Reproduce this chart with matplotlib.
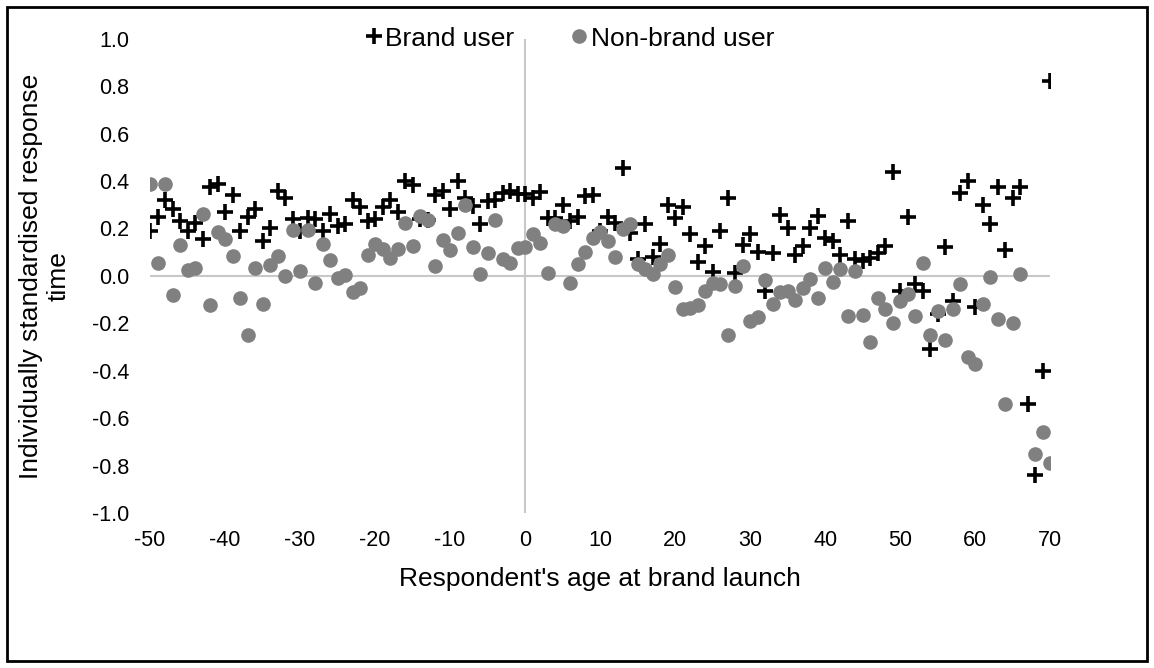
import numpy as np
import matplotlib
matplotlib.use("Agg")
import matplotlib.pyplot as plt
from matplotlib.patches import Rectangle

plt.rcParams['font.family'] = ['Liberation Sans', 'DejaVu Sans']
plt.rcParams['axes.unicode_minus'] = False

# Respondent's age at brand launch
ages = list(range(-50, 71))

# Individually standardised response time, brand users
brand_user = [
    0.19, 0.25, 0.32, 0.28, 0.23, 0.19, 0.225, 0.155, 0.375, 0.387,    # -50..-41
    0.27, 0.34, 0.19, 0.25, 0.28, 0.145, 0.20, 0.36, 0.33, 0.24,       # -40..-31
    0.19, 0.245, 0.24, 0.19, 0.26, 0.21, 0.22, 0.32, 0.29, 0.23,       # -30..-21
    0.24, 0.29, 0.32, 0.27, 0.40, 0.385, 0.24, 0.235, 0.34, 0.36,      # -20..-11
    0.28, 0.40, 0.33, 0.295, 0.22, 0.315, 0.32, 0.35, 0.36, 0.345,     # -10..-1
    0.345, 0.33, 0.355, 0.245, 0.245, 0.30, 0.23, 0.25, 0.335, 0.34,   # 0..9
    0.19, 0.25, 0.225, 0.455, 0.18, 0.07, 0.22, 0.08, 0.135, 0.30,     # 10..19
    0.245, 0.29, 0.175, 0.06, 0.124, 0.016, 0.19, 0.33, 0.014, 0.13,   # 20..29
    0.177, 0.10, -0.063, 0.098, 0.257, 0.204, 0.09, 0.124, 0.204, 0.253,  # 30..39
    0.16, 0.145, 0.09, 0.23, 0.07, 0.063, 0.077, 0.098, 0.125, 0.44,   # 40..49
    -0.063, 0.25, -0.035, -0.063, -0.31, -0.16, 0.12, -0.105, 0.35, 0.40,  # 50..59
    -0.13, 0.30, 0.22, 0.375, 0.11, 0.33, 0.375, -0.54, -0.84, -0.40,  # 60..69
    0.82,                                                              # 70
]

# Individually standardised response time, non-brand users
non_brand_user = [
    0.387, 0.053, 0.387, -0.082, 0.131, 0.025, 0.032, 0.263, -0.122, 0.183,   # -50..-41
    0.155, 0.084, -0.094, -0.249, 0.035, -0.12, 0.046, 0.084, 0.0, 0.194,     # -40..-31
    0.021, 0.194, -0.031, 0.136, 0.066, -0.011, 0.004, -0.07, -0.052, 0.089,  # -30..-21
    0.136, 0.113, 0.075, 0.113, 0.225, 0.124, 0.253, 0.235, 0.042, 0.15,      # -20..-11
    0.11, 0.18, 0.30, 0.12, 0.007, 0.096, 0.235, 0.07, 0.056, 0.117,          # -10..-1
    0.12, 0.176, 0.14, 0.014, 0.22, 0.21, -0.032, 0.05, 0.10, 0.16,           # 0..9
    0.187, 0.148, 0.08, 0.197, 0.22, 0.052, 0.028, 0.01, 0.052, 0.089,        # 10..19
    -0.045, -0.138, -0.134, -0.122, -0.063, -0.03, -0.035, -0.25, -0.042, 0.042,  # 20..29
    -0.19, -0.175, -0.017, -0.12, -0.07, -0.063, -0.10, -0.052, -0.014, -0.094,   # 30..39
    0.035, -0.025, 0.03, -0.169, 0.021, -0.163, -0.278, -0.094, -0.14, -0.197,    # 40..49
    -0.108, -0.077, -0.169, 0.054, -0.25, -0.148, -0.27, -0.14, -0.035, -0.34,    # 50..59
    -0.37, -0.117, -0.004, -0.18, -0.54, -0.20, 0.01, np.nan, -0.75, -0.657,      # 60..69
    -0.79,                                                                        # 70
]

x_ticks = list(range(-50, 71, 10))
y_ticks = [-1.0, -0.8, -0.6, -0.4, -0.2, 0.0, 0.2, 0.4, 0.6, 0.8, 1.0]
y_tick_labels = [f"{v:.1f}" for v in y_ticks]

fig = plt.figure(figsize=(11.54, 6.68), dpi=100)
ax = fig.add_axes([0.130, 0.232, 0.780, 0.710])

ax.axhline(0, color='#c8c8c8', lw=1.5, zorder=1)
ax.axvline(0, color='#c8c8c8', lw=1.5, zorder=1)

ax.plot(ages, brand_user, linestyle='none', marker='+', color='black',
        markersize=12, markeredgewidth=2.6, label='Brand user', zorder=3)
ax.plot(ages, non_brand_user, linestyle='none', marker='o', color='#808080',
        markeredgecolor='#808080', markersize=9.5, label='Non-brand user', zorder=4)

ax.set_xlim(-50, 70)
ax.set_ylim(-1.0, 1.0)
ax.set_xticks(x_ticks)
ax.set_yticks(y_ticks)
ax.set_yticklabels(y_tick_labels)
ax.tick_params(length=0, labelsize=15.5, colors='black')
ax.tick_params(axis='x', pad=12)
ax.tick_params(axis='y', pad=15)
for s in ax.spines.values():
    s.set_visible(False)

ax.set_xlabel("Respondent's age at brand launch", fontsize=19, labelpad=12)
ax.set_ylabel("Individually standardised response\ntime", fontsize=19, labelpad=10)
ax.yaxis.set_label_coords(-0.088, 0.5)

leg = ax.legend(loc='upper center', bbox_to_anchor=(0.463, 1.048), ncol=2, frameon=False,
                fontsize=19, handletextpad=-0.1, columnspacing=1.9, handlelength=1.1,
                borderaxespad=0)

fig.patches.append(Rectangle((0.006, 0.010), 0.988, 0.980, transform=fig.transFigure,
                             fill=False, edgecolor='black', linewidth=2.0))

fig.savefig("out.png", dpi=100)
